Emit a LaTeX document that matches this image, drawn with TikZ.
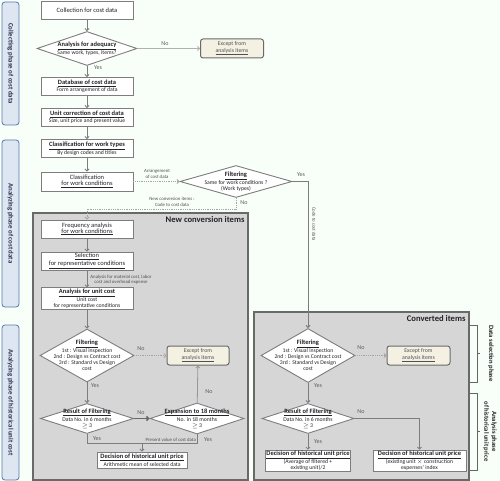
\documentclass[tikz,border=0pt]{standalone}
\usepackage{fontspec}
\setmainfont{Carlito}
\usetikzlibrary{arrows.meta,positioning,shapes.geometric}
\definecolor{bgmint}{RGB}{248,255,248}
\definecolor{boxline}{RGB}{125,125,125}
\definecolor{ink}{RGB}{35,35,40}
\definecolor{panelgray}{RGB}{214,214,214}
\definecolor{paneledge}{RGB}{105,105,105}
\definecolor{phasefill}{RGB}{222,231,241}
\definecolor{phaseedge}{RGB}{88,120,176}
\definecolor{phaseink}{RGB}{40,50,80}
\definecolor{creamy}{RGB}{244,241,226}

\newcommand{\fbig}{\fontsize{6.5}{7.4}\selectfont}
\newcommand{\fsmall}{\fontsize{5.7}{6.0}\selectfont}
\newcommand{\ftiny}{\fontsize{4.8}{5.4}\selectfont}

\tikzset{
  flowbox/.style={draw=boxline, fill=white, line width=0.9pt, minimum width=92pt,
    minimum height=18pt, align=center, inner sep=1pt, font=\fsmall, text=ink},
  decision/.style={diamond, draw=boxline, fill=white, line width=0.9pt, align=center,
    inner sep=-20pt, font=\fsmall, text=ink},
  exceptbox/.style={rounded corners=2.5pt, draw=paneledge, fill=creamy, line width=1pt,
    minimum width=63pt, minimum height=19pt, align=center, inner sep=1pt,
    font=\fontsize{5.8}{6.6}\selectfont, text=ink!80},
  phasebox/.style={rounded corners=3pt, draw=phaseedge, fill=phasefill, line width=0.8pt,
    rotate=-90, minimum height=17pt, inner sep=1pt,
    font=\fontsize{6.8}{8}\selectfont\bfseries, text=phaseink},
  panel/.style={draw=paneledge, fill=panelgray, line width=1.3pt},
  paneltitle/.style={font=\fontsize{8.6}{10}\selectfont\bfseries, text=ink, inner sep=0pt},
  sidelabel/.style={font=\fontsize{6.6}{7.8}\selectfont\bfseries, text=ink, rotate=-90, align=center},
  yesno/.style={font=\fontsize{6}{7}\selectfont, text=ink!75, inner sep=0pt},
  tinylabel/.style={font=\ftiny, text=ink!80, align=center, inner sep=0pt},
  flowline/.style={draw=boxline, line width=0.8pt, -{Straight Barb[length=2pt,width=4pt]}},
  plainline/.style={draw=boxline, line width=0.8pt},
  dotline/.style={draw=boxline!70, line width=0.8pt, densely dotted, -{Straight Barb[length=2pt,width=4pt]}},
  thickline/.style={draw=paneledge, line width=1.5pt, -{Straight Barb[length=2pt,width=4pt]}},
  bracket/.style={draw=ink!70, line width=0.6pt}
}

\begin{document}
\begin{tikzpicture}[x=1pt, y=-1pt]
\useasboundingbox (0,0) rectangle (500,481);
\fill[bgmint] (0,0) rectangle (500,481);

% phase labels on the left
\node[phasebox, minimum width=123pt] (phase1) at (10.5,63.5) {Collecting phase of cost data};
\node[phasebox, minimum width=167pt] (phase2) at (10.5,223.5) {Analyzing phase of cost data};
\node[phasebox, minimum width=155pt] (phase3) at (10.5,402.5) {Analyzing phase of historical unit cost};

% the two grey panels
\node[panel, minimum width=215pt, minimum height=267pt] (newpanel) at (140.5,346.5) {};
\node[paneltitle, below left=4pt and 4pt of newpanel.north east] (newtitle) {New conversion items};
\node[panel, minimum width=215pt, minimum height=168pt] (convpanel) at (361.5,396) {};
\node[paneltitle, below left=4pt and 4pt of convpanel.north east] (convtitle) {Converted items};

% collecting phase
\node[flowbox] (collect) at (87,10.5) {{\fbig Collection for cost data}};
\node[decision, minimum width=100pt, minimum height=34pt] (adequacy) at (87,48.5)
  {{\fbig\textbf{\underline{Analysis for adequacy}}}\\Same work, types, items?};
\node[exceptbox] (except1) at (232,48.5) {Except from\\\underline{analysis items}};
\node[flowbox] (database) at (87,86.5)
  {{\fbig\textbf{\underline{Database of cost data}}}\\Form arrangement of data};
\node[flowbox] (unitcorr) at (87,117.5)
  {{\fbig\textbf{\underline{Unit correction of cost data}}}\\Size, unit price and present value};

% analyzing phase
\node[flowbox] (worktypes) at (87,148.5)
  {{\fbig\textbf{\underline{Classification for work types}}}\\By design codes and titles};
\node[flowbox, minimum height=19pt] (workcond) at (87,181.5)
  {{\fbig Classification}\\{\fbig\underline{for work conditions}}};
\node[decision, minimum width=112pt, minimum height=32pt] (filtertop) at (236,181.5)
  {{\fbig\textbf{\underline{Filtering}}}\\Same for work conditions ?\\(Work types)};

% new conversion items
\node[flowbox] (frequency) at (87,229)
  {{\fbig Frequency analysis}\\{\fbig\underline{for work conditions}}};
\node[flowbox] (selection) at (87,261)
  {{\fbig\underline{Selection}}\\{\fbig\underline{for representative conditions}}};
\node[flowbox, minimum height=19pt] (unitcost) at (87,298.5)
  {{\fbig\textbf{\underline{Analysis for unit cost}}}\\Unit cost\\for representative conditions};
\node[decision, minimum width=94pt, minimum height=53pt] (filterleft) at (87,355.5)
  {{\fbig\textbf{\underline{Filtering}}}\\1st : Visual inspection\\2nd : Design vs Contract cost\\3rd : Standard vs Design\\cost};
\node[exceptbox, minimum width=62pt] (except2) at (198,355.5) {Except from\\\underline{analysis items}};
\node[decision, minimum width=93pt, minimum height=30pt] (resultleft) at (87,418.5)
  {{\fbig\textbf{\underline{Result of Filtering}}}\\Data No. in 6 months\\$\geq$ 3};
\node[decision, minimum width=94pt, minimum height=31pt] (expansion) at (197,418.5)
  {{\fbig\textbf{\underline{Expansion to 18 months}}}\\No. in 18 months\\$\geq$ 3};
\node[flowbox, minimum width=90pt, minimum height=16pt] (decideleft) at (142,460)
  {{\fbig\textbf{\underline{Decision of historical unit price}}}\\Arithmetic mean of selected data};

% converted items
\node[decision, minimum width=94pt, minimum height=54pt] (filterright) at (308,355.5)
  {{\fbig\textbf{\underline{Filtering}}}\\1st : Visual inspection\\2nd : Design vs Contract cost\\3rd : Standard vs Design\\cost};
\node[exceptbox] (except3) at (418.5,355.5) {Except from\\\underline{analysis items}};
\node[decision, minimum width=92pt, minimum height=30pt] (resultright) at (308,418.5)
  {{\fbig\textbf{\underline{Result of Filtering}}}\\Data No. in 6 months\\$\geq$ 3};
\node[flowbox, minimum width=83pt, minimum height=18pt] (decidemid) at (308,461)
  {{\fbig\textbf{\underline{Decision of historical unit price}}}\\(Average of filtered +\\existing unit)/2};
\node[flowbox, minimum width=93pt, minimum height=18pt] (decideright) at (419.5,461)
  {{\fbig\textbf{\underline{Decision of historical unit price}}}\\(existing unit $\times$ construction\\expenses' index};

% yes / no and small labels
\node[yesno] (yes1) at (98,68) {Yes};
\node[yesno] (no1) at (165,43.5) {No};
\node[tinylabel] (arrange) at (157,174) {Arrangement\\of cost data};
\node[yesno] (yes2) at (301,175) {Yes};
\node[yesno] (no2) at (244,203) {No};
\node[tinylabel] (newcode) at (172,202) {New conversion items :\\Code to cost data};
\node[tinylabel, rotate=-90] (codecost) at (314,224) {Code to cost data};
\node[tinylabel] (matlabel) at (121,279.5) {Analysis for material cost, labor\\cost and overhead expense};
\node[yesno] (no3) at (141,349) {No};
\node[yesno] (yes3) at (95,386) {Yes};
\node[yesno] (no4) at (141,413) {No};
\node[yesno] (no5) at (209,392) {No};
\node[yesno] (yes4) at (97,439) {Yes};
\node[tinylabel, anchor=east] (pvlabel) at (196,440) {Present value of cost data};
\node[yesno] (yes5) at (208,440) {Yes};
\node[yesno] (no6) at (361,348) {No};
\node[yesno] (yes6) at (318,386) {Yes};
\node[yesno] (no7) at (361,412) {No};
\node[yesno] (yes7) at (318,442) {Yes};

% connectors
\draw[flowline] (collect) -- (adequacy);
\draw[flowline] (adequacy) -- (database);
\draw[flowline, draw=boxline!60] (adequacy) -- (except1);
\draw[flowline] (database) -- (unitcorr);
\draw[flowline] (unitcorr) -- (worktypes);
\draw[flowline] (worktypes) -- (workcond);
\draw[dotline] (workcond) -- (filtertop);
\draw[flowline, line width=1pt] (filtertop.east) -| (filterright.north);
\coordinate (bendnew) at (236,209);
\draw[dotline] (filtertop.south) -- (bendnew) -| (frequency.north);
\draw[flowline] (frequency) -- (selection);
\draw[flowline] (selection) -- (unitcost);
\draw[flowline] (unitcost) -- (filterleft);
\draw[dotline] (filterleft) -- (except2);
\draw[flowline] (filterleft) -- (resultleft);
\draw[thickline] (resultleft) -- (expansion);
\draw[flowline, draw=boxline!80] (expansion) -- (except2);
\coordinate (yesbendL) at (87,443);
\coordinate (yesbendR) at (197,443);
\coordinate (joinleft) at (142,443);
\draw[plainline] (resultleft.south) -- (yesbendL) -- (yesbendR) -- (expansion.south);
\draw[flowline] (joinleft) -- (decideleft);
\draw[dotline] (filterright) -- (except3);
\draw[flowline] (filterright) -- (resultright);
\draw[flowline] (resultright) -- (decidemid);
\draw[flowline, line width=1pt] (resultright.east) -| (decideright.north);

% phase brackets on the right
\draw[bracket] (470,325) -- (477,325) -- (477,382) -- (470,382);
\draw[bracket] (477,353.5) -- (480,353.5);
\draw[bracket] (470,393) -- (477,393) -- (477,470) -- (470,470);
\draw[bracket] (477,431.5) -- (480,431.5);
\node[sidelabel] (selphase) at (491,353.5) {Data selection phase};
\node[sidelabel] (histphase) at (490,431.5) {Analysis phase\\of historical unit price};
\end{tikzpicture}
\end{document}
